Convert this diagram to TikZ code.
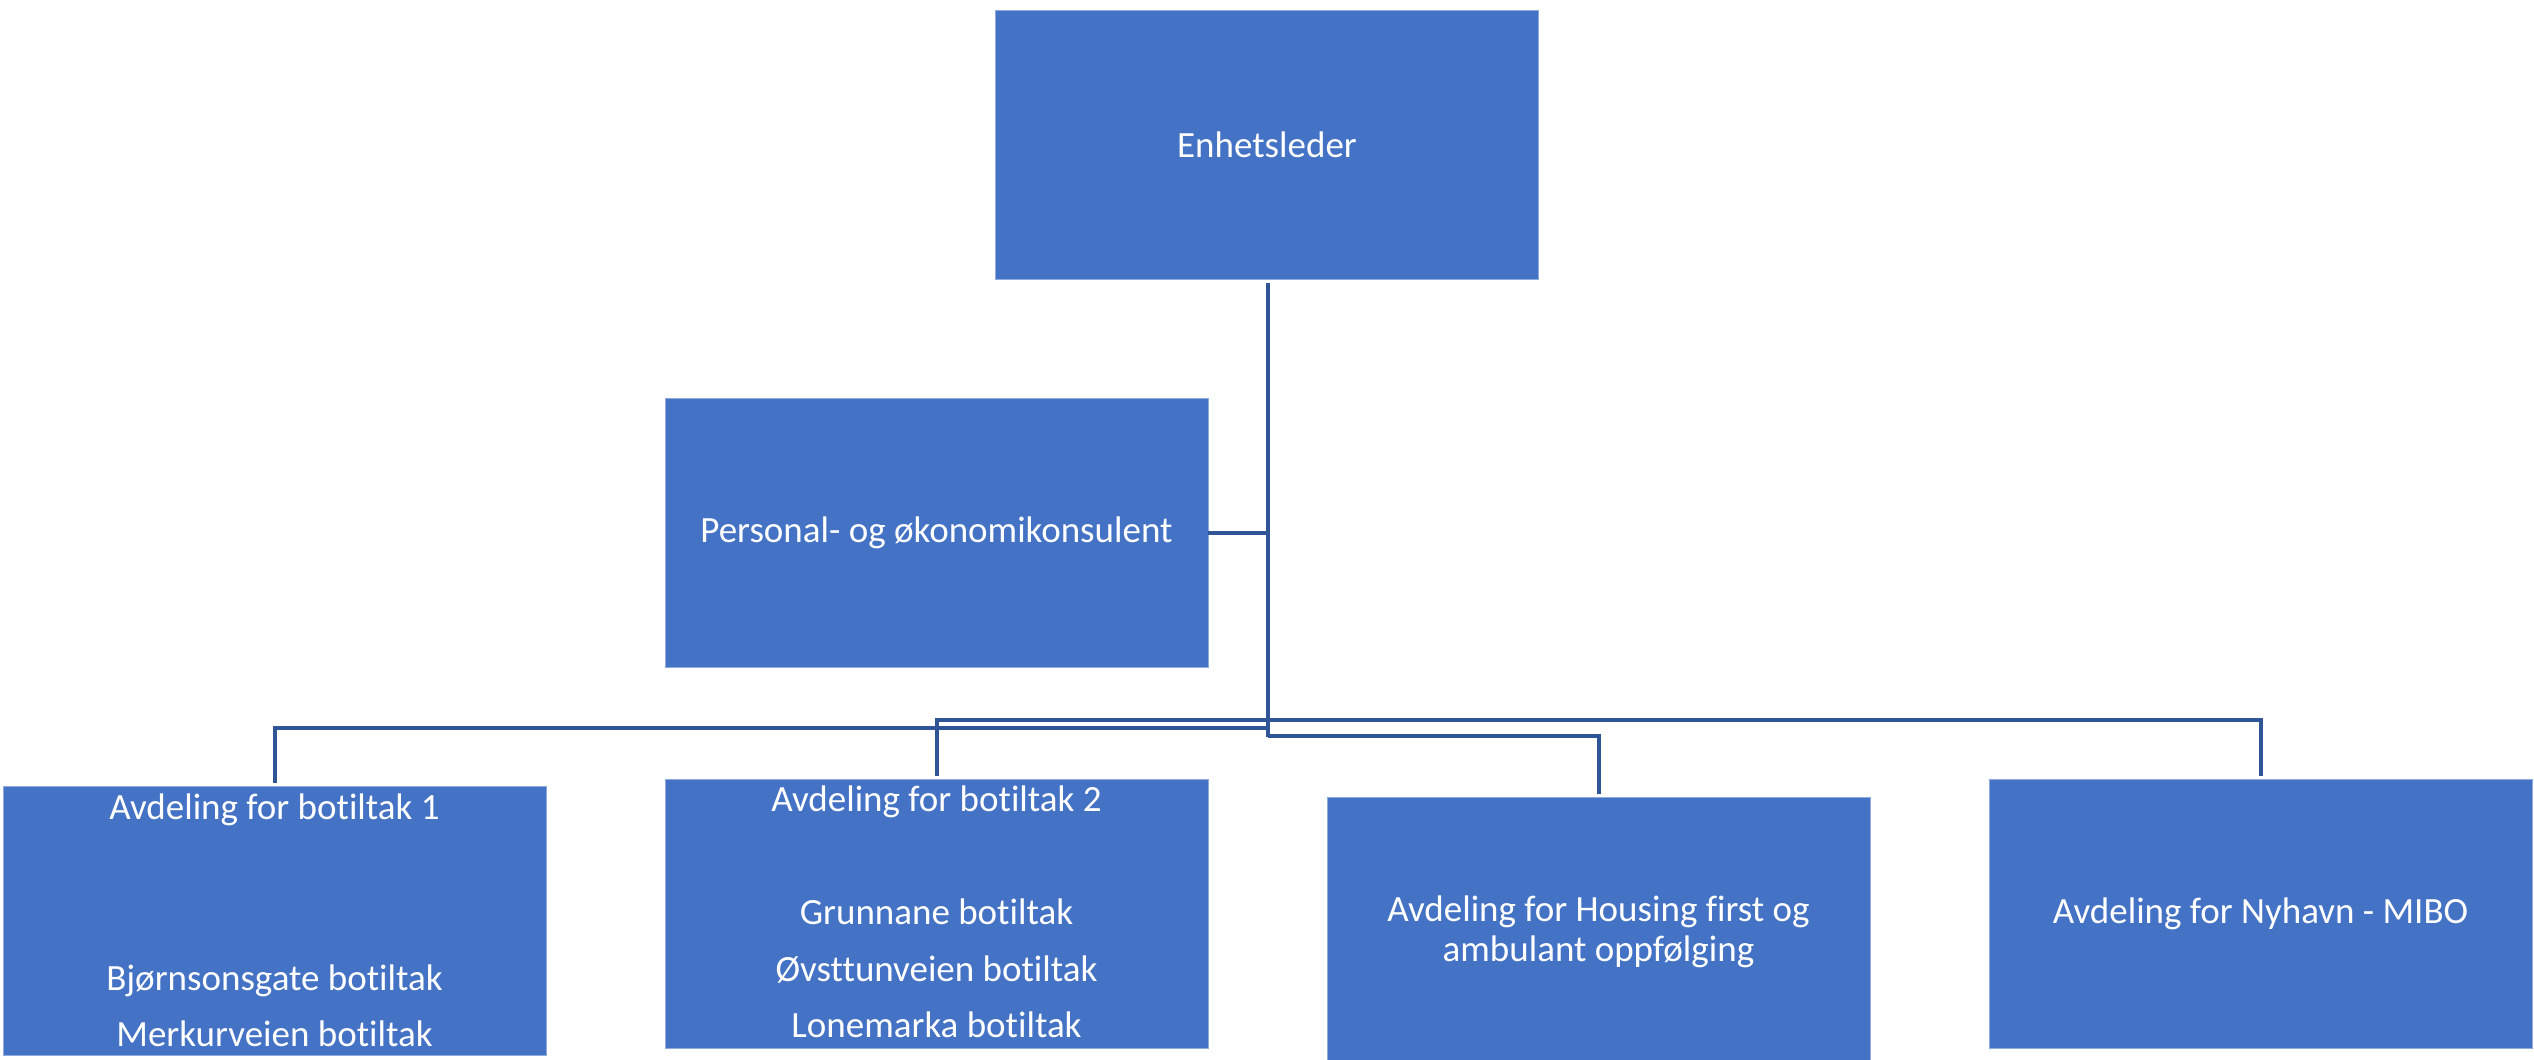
\documentclass[tikz,border=0pt]{standalone}
\usepackage{fontspec}
\setmainfont{Carlito}[RawFeature={-liga,-clig,-calt,-dlig}]
\definecolor{boxblue}{HTML}{4472C4}
\definecolor{boxedge}{HTML}{8FAADC}
\definecolor{linkblue}{HTML}{2F5597}
\newcommand{\botw}{bot\kern0pt iltak}
\begin{document}
\begin{tikzpicture}[x=0.5pt,y=-0.5pt,
  orgbox/.style={rectangle, fill=boxblue, draw=boxedge, line width=0.4pt,
    minimum width=271.5pt, minimum height=134.5pt, inner sep=0pt,
    text=white, align=center, font=\fontsize{18.5}{20}\selectfont},
  boxtext/.style={anchor=base, text=white, inner sep=0pt, font=\fontsize{18.5}{20}\selectfont},
  conn/.style={draw=linkblue, line width=2pt, line join=miter, shorten >=1.5pt}]
\useasboundingbox (0,0) rectangle (2534,1060);
\fill[white] (0,0) rectangle (2534,1060);

\node[orgbox] (E) at (1267,145) {Enhetsleder};
\node[orgbox] (P) at (936.5,533) {Personal- og økonomikonsulent};
\node[orgbox] (B1) at (274.5,921) {};
\node[orgbox] (B2) at (936.5,913.5) {};
\node[orgbox] (B3) at (1598.5,931.5) {Avdeling for Housing f\kern0pt irst og\\ambulant oppfølging};
\node[orgbox] (B4) at (2260.5,913.5) {Avdeling for Nyhavn - MIBO};

\node[boxtext] (b1a) at (274.5,819) {Avdeling for \botw{} 1};
\node[boxtext] (b1b) at (274.5,990) {Bjørnsonsgate \botw};
\node[boxtext] (b1c) at (274.5,1046) {Merkurveien \botw};
\node[boxtext] (b2a) at (936.5,811) {Avdeling for \botw{} 2};
\node[boxtext] (b2b) at (936.5,924) {Grunnane \botw};
\node[boxtext] (b2c) at (936.5,981) {Øvsttunveien \botw};
\node[boxtext] (b2d) at (936.5,1037) {Lonemarka \botw};

\coordinate (t1) at (1268,720);
\coordinate (t2) at (1268,728);
\coordinate (t3) at (1268,737);

\draw[conn, shorten >=0pt, shorten <=1.5pt] (E.south -| t3) -- (t3);
\draw[conn, shorten >=0pt] (P.east) -- (P.east -| t3);
\draw[conn] (t2) -| (B1.north);
\draw[conn, shorten <=1.5pt] (B2.north) |- (B4.north |- t1) -- (B4.north);
\draw[conn] ([yshift=0.5pt]t3) -| (B3.north);
\end{tikzpicture}
\end{document}
